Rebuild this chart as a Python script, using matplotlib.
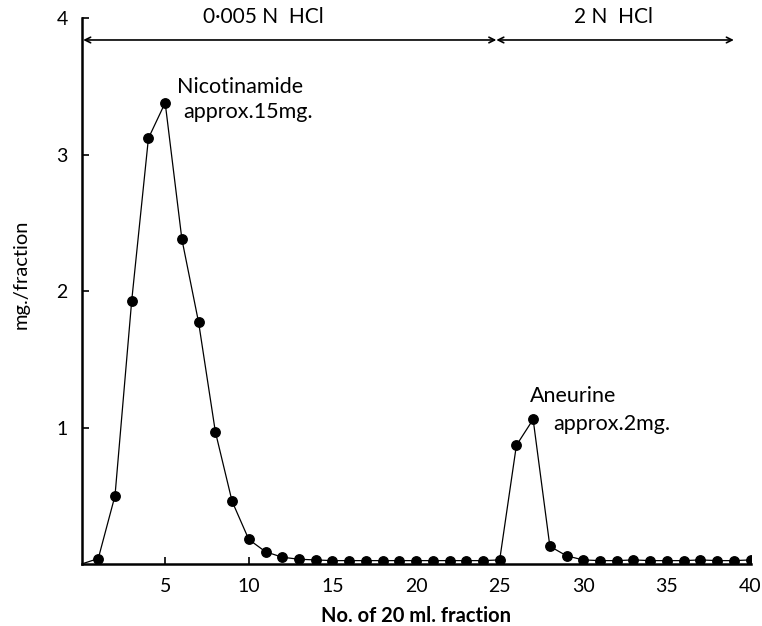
import matplotlib
matplotlib.use("Agg")
import matplotlib.pyplot as plt

plt.rcParams['font.family'] = ['Lato', 'DejaVu Sans']

# mg per 20 ml fraction, fractions 1..40
fraction = list(range(1, 41))
mg = [0.04, 0.50, 1.93, 3.12, 3.38, 2.38, 1.77, 0.97, 0.46, 0.18,
      0.09, 0.05, 0.035, 0.03, 0.025, 0.025, 0.025, 0.025, 0.025, 0.025,
      0.025, 0.025, 0.025, 0.025, 0.03, 0.87, 1.06, 0.13, 0.06, 0.03,
      0.025, 0.025, 0.03, 0.025, 0.025, 0.025, 0.03, 0.025, 0.025, 0.03]

xticks = [5, 10, 15, 20, 25, 30, 35, 40]
yticks = [1, 2, 3, 4]

# acid change-over points for the eluent arrows
acid_start = 0
acid_switch = 24.8
acid_end = 39

fig = plt.figure(figsize=(7.62, 6.26), dpi=100)
ax = fig.add_axes([0.107, 0.099, 0.878, 0.872])

ax.plot([0] + fraction, [0] + mg, color='black', lw=0.9, zorder=2)
ax.plot(fraction, mg, 'o', color='black', ms=6.8, zorder=3)

ax.set_xlim(0, 40)
ax.set_ylim(0, 4)
ax.spines['top'].set_visible(False)
ax.spines['right'].set_visible(False)
ax.spines['left'].set_linewidth(1.8)
ax.spines['bottom'].set_linewidth(1.8)
ax.set_xticks(xticks)
ax.set_yticks(yticks)
ax.tick_params(direction='in', length=5, width=1.2, labelsize=14, pad=10)

ax.set_xlabel("No. of 20 ml. fraction", fontsize=14.5, fontweight='bold', labelpad=8)
ax.set_ylabel("mg./fraction", fontsize=14.5)
ax.yaxis.set_label_coords(-0.078, 0.53)

# eluent ranges
y_arr = 3.84
ax.annotate('', xy=(acid_start + 0.1, y_arr), xytext=(acid_switch, y_arr),
            arrowprops=dict(arrowstyle='<->', lw=1.2, color='black',
                            shrinkA=0, shrinkB=0), annotation_clip=False)
ax.annotate('', xy=(acid_switch, y_arr), xytext=(acid_end, y_arr),
            arrowprops=dict(arrowstyle='<->', lw=1.2, color='black',
                            shrinkA=0, shrinkB=0), annotation_clip=False)
ax.text(10.9, 3.935, "0·005 N  HCl", ha='center', va='bottom', fontsize=15)
ax.text(31.8, 3.935, "2 N  HCl", ha='center', va='bottom', fontsize=15)

# peak labels
ax.text(5.7, 3.45, "Nicotinamide", fontsize=15.5)
ax.text(6.1, 3.27, "approx.15mg.", fontsize=15.5)
ax.text(26.8, 1.19, "Aneurine", fontsize=15.5)
ax.text(28.2, 0.98, "approx.2mg.", fontsize=15.5)

fig.savefig("out.png", dpi=100)
